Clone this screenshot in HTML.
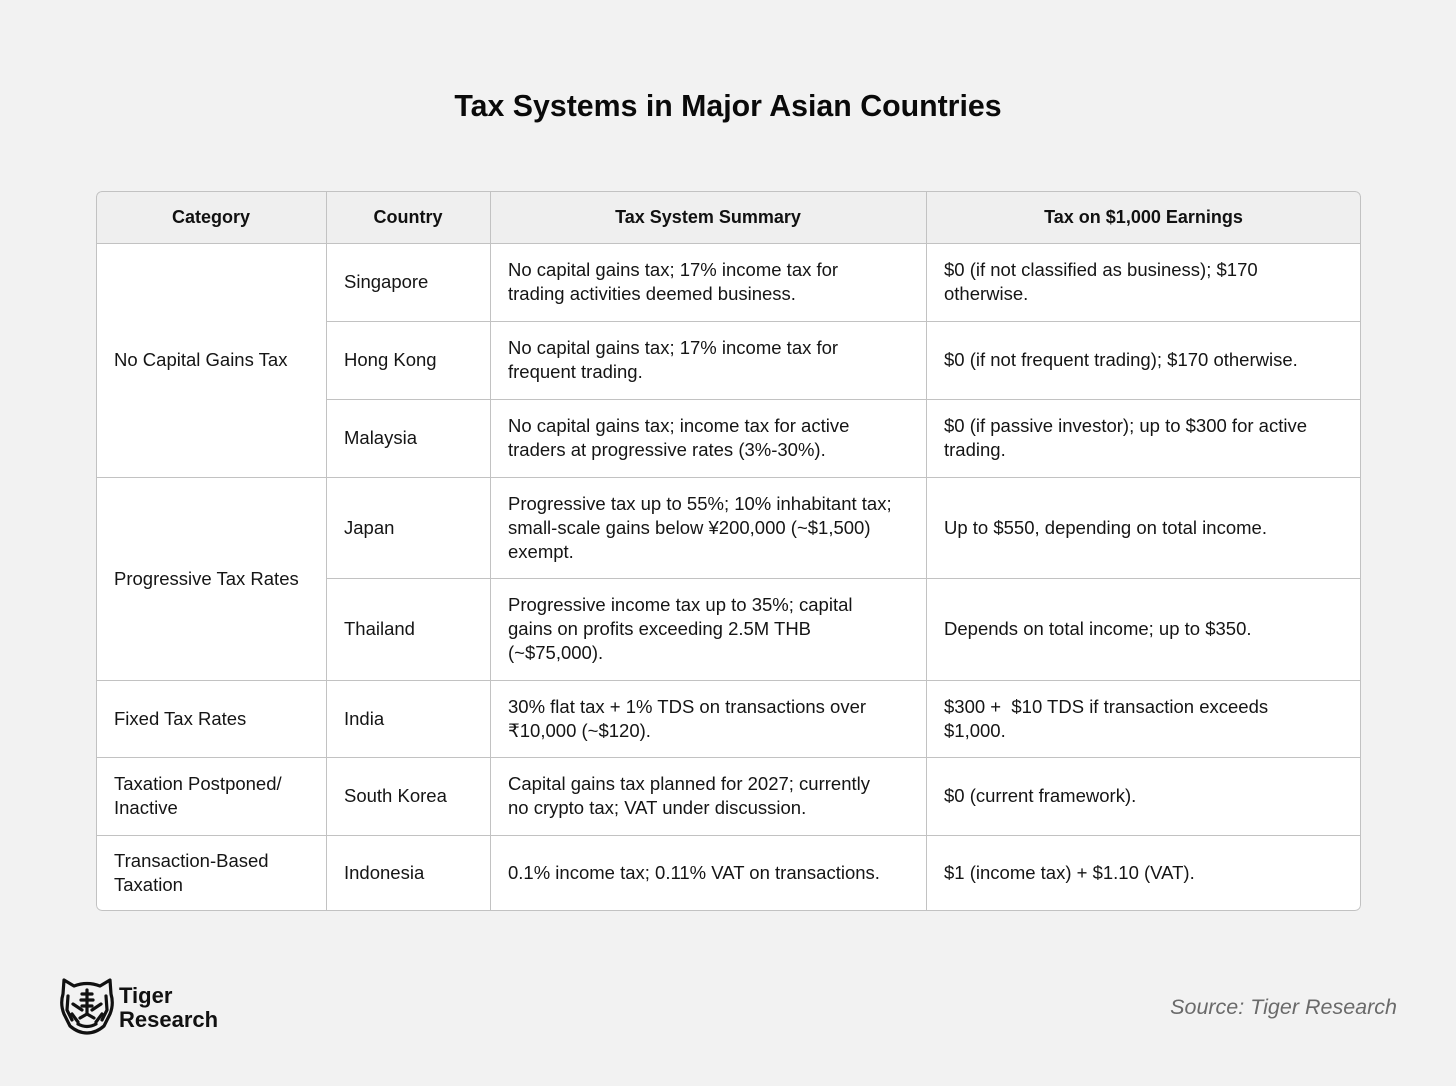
<!DOCTYPE html>
<html>
<head>
<meta charset="utf-8">
<style>
html,body{margin:0;padding:0;}
body{width:1456px;height:1086px;background:#f2f2f2;position:relative;overflow:hidden;font-family:"Liberation Sans",Arial,sans-serif;color:#111;}
.title{position:absolute;left:0;width:1456px;top:87px;text-align:center;font-weight:bold;font-size:30.3px;line-height:40px;color:#0a0a0a;}
.tbl{position:absolute;left:96px;top:191px;width:1265px;height:720px;border-radius:6px;background:#fff;overflow:hidden;}
.frame{position:absolute;left:0;top:0;width:1265px;height:720px;box-sizing:border-box;border:1.5px solid #c2c2c2;border-radius:6px;}
.hdr{position:absolute;left:0;top:0;width:100%;height:52px;background:#efefef;}
.h{position:absolute;background:#c2c2c2;height:1.5px;}
.v{position:absolute;background:#c2c2c2;width:1.5px;top:0;height:720px;}
.c{position:absolute;display:flex;align-items:center;box-sizing:border-box;padding-left:18px;font-size:18.5px;line-height:24px;white-space:nowrap;color:#151515;}
.hc{position:absolute;display:flex;align-items:center;justify-content:center;font-size:18px;font-weight:bold;height:52px;top:0;color:#111;}
.src{position:absolute;right:59px;top:995px;font-size:21.5px;font-style:italic;color:#6a6a6a;}
.logo{position:absolute;left:119px;top:984px;font-size:22px;font-weight:bold;line-height:24px;color:#111;}
</style>
</head>
<body>
<div class="title">Tax Systems in Major Asian Countries</div>

<div class="tbl">
  <div class="hdr"></div>
  <div class="hc" style="left:0;width:230px;">Category</div>
  <div class="hc" style="left:230px;width:164px;">Country</div>
  <div class="hc" style="left:394px;width:436px;">Tax System Summary</div>
  <div class="hc" style="left:830px;width:435px;">Tax on $1,000 Earnings</div>

  <div class="h" style="left:0;width:1265px;top:51.5px;"></div>
  <div class="h" style="left:230px;width:1035px;top:129.5px;"></div>
  <div class="h" style="left:230px;width:1035px;top:207.5px;"></div>
  <div class="h" style="left:0;width:1265px;top:285.5px;"></div>
  <div class="h" style="left:230px;width:1035px;top:386.5px;"></div>
  <div class="h" style="left:0;width:1265px;top:488.5px;"></div>
  <div class="h" style="left:0;width:1265px;top:565.5px;"></div>
  <div class="h" style="left:0;width:1265px;top:643.5px;"></div>

  <div class="v" style="left:229.5px;"></div>
  <div class="v" style="left:393.5px;"></div>
  <div class="v" style="left:829.5px;"></div>

  <div class="c" style="left:0;width:230px;top:52px;height:234px;">No Capital Gains Tax</div>
  <div class="c" style="left:0;width:230px;top:286px;height:203px;">Progressive Tax Rates</div>
  <div class="c" style="left:0;width:230px;top:489px;height:77px;">Fixed Tax Rates</div>
  <div class="c" style="left:0;width:230px;top:566px;height:78px;">Taxation Postponed/<br>Inactive</div>
  <div class="c" style="left:0;width:230px;top:644px;height:76px;">Transaction-Based<br>Taxation</div>

  <div class="c" style="left:230px;width:164px;top:52px;height:78px;">Singapore</div>
  <div class="c" style="left:230px;width:164px;top:130px;height:78px;">Hong Kong</div>
  <div class="c" style="left:230px;width:164px;top:208px;height:78px;">Malaysia</div>
  <div class="c" style="left:230px;width:164px;top:286px;height:101px;">Japan</div>
  <div class="c" style="left:230px;width:164px;top:387px;height:102px;">Thailand</div>
  <div class="c" style="left:230px;width:164px;top:489px;height:77px;">India</div>
  <div class="c" style="left:230px;width:164px;top:566px;height:78px;">South Korea</div>
  <div class="c" style="left:230px;width:164px;top:644px;height:76px;">Indonesia</div>

  <div class="c" style="left:394px;width:436px;top:52px;height:78px;">No capital gains tax; 17% income tax for<br>trading activities deemed business.</div>
  <div class="c" style="left:394px;width:436px;top:130px;height:78px;">No capital gains tax; 17% income tax for<br>frequent trading.</div>
  <div class="c" style="left:394px;width:436px;top:208px;height:78px;">No capital gains tax; income tax for active<br>traders at progressive rates (3%-30%).</div>
  <div class="c" style="left:394px;width:436px;top:286px;height:101px;">Progressive tax up to 55%; 10% inhabitant tax;<br>small-scale gains below ¥200,000 (~$1,500)<br>exempt.</div>
  <div class="c" style="left:394px;width:436px;top:387px;height:102px;">Progressive income tax up to 35%; capital<br>gains on profits exceeding 2.5M THB<br>(~$75,000).</div>
  <div class="c" style="left:394px;width:436px;top:489px;height:77px;">30% flat tax + 1% TDS on transactions over<br>₹10,000 (~$120).</div>
  <div class="c" style="left:394px;width:436px;top:566px;height:78px;">Capital gains tax planned for 2027; currently<br>no crypto tax; VAT under discussion.</div>
  <div class="c" style="left:394px;width:436px;top:644px;height:76px;">0.1% income tax; 0.11% VAT on transactions.</div>

  <div class="c" style="left:830px;width:435px;top:52px;height:78px;">$0 (if not classified as business); $170<br>otherwise.</div>
  <div class="c" style="left:830px;width:435px;top:130px;height:78px;">$0 (if not frequent trading); $170 otherwise.</div>
  <div class="c" style="left:830px;width:435px;top:208px;height:78px;">$0 (if passive investor); up to $300 for active<br>trading.</div>
  <div class="c" style="left:830px;width:435px;top:286px;height:101px;">Up to $550, depending on total income.</div>
  <div class="c" style="left:830px;width:435px;top:387px;height:102px;">Depends on total income; up to $350.</div>
  <div class="c" style="left:830px;width:435px;top:489px;height:77px;">$300 +&nbsp; $10 TDS if transaction exceeds<br>$1,000.</div>
  <div class="c" style="left:830px;width:435px;top:566px;height:78px;">$0 (current framework).</div>
  <div class="c" style="left:830px;width:435px;top:644px;height:76px;">$1 (income tax) + $1.10 (VAT).</div>

  <div class="frame"></div>
</div>

<svg style="position:absolute;left:58px;top:976px;" width="58" height="60" viewBox="0 0 58 60">
  <g fill="none" stroke="#111" stroke-width="3.2" stroke-linejoin="round" stroke-linecap="round">
    <path d="M6 4 L16 10 Q29 5 42 10 L52 4 L53 18 Q56 28 52 38 L46 50 Q38 57 29 57 Q20 57 12 50 L6 38 Q2 28 5 18 Z"/>
    <path d="M10 20 L9 34 L14 44"/>
    <path d="M48 20 L49 34 L44 44"/>
    <path d="M15 28 L24 34"/>
    <path d="M43 28 L34 34"/>
    <path d="M29 14 L29 38"/>
    <path d="M24 18 L34 18"/>
    <path d="M23 24 L35 24"/>
    <path d="M24 30 L34 30"/>
    <path d="M22 42 L29 38 L36 42"/>
    <path d="M20 48 Q29 53 38 48"/>
    <path d="M14 38 L20 46"/>
    <path d="M44 38 L38 46"/>
  </g>
</svg>
<div class="logo">Tiger<br>Research</div>

<div class="src">Source: Tiger Research</div>
</body>
</html>
